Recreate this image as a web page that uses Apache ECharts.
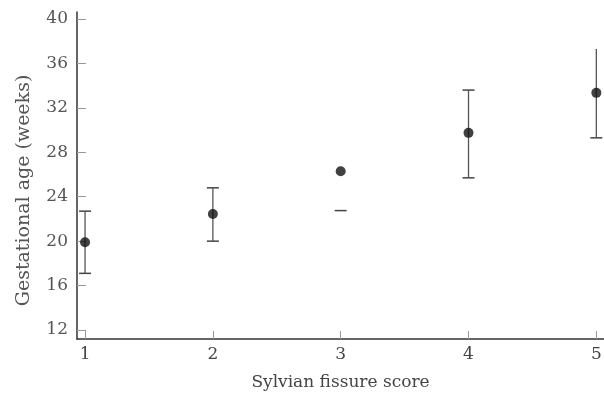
<!DOCTYPE html>
<html>
<head>
<meta charset="utf-8">
<script src="https://cdn.jsdelivr.net/npm/echarts@6/dist/echarts.min.js"></script>
<style>html,body{margin:0;padding:0;background:#fff}#c{width:604px;height:393px}</style>
</head>
<body>
<div id="c"></div>
<script>
var scores = [1, 2, 3, 4, 5];
var means = [19.9, 22.45, 26.3, 29.75, 33.35];
var lowers = [17.1, 20.0, 22.75, 25.7, 29.3];
var uppers = [22.7, 24.8, null, 33.6, 37.3];
var upperCaps = [true, true, false, true, false];
var yTicks = [12, 16, 20, 24, 28, 32, 36, 40];
var xTicks = [1, 2, 3, 4, 5];

var font = '"DejaVu Serif", "Liberation Serif", serif';
var chart = echarts.init(document.getElementById('c'));

var errData = scores.map(function (s, i) {
  return [s, lowers[i], uppers[i] == null ? means[i] : uppers[i], uppers[i] == null ? 0 : 1, upperCaps[i] ? 1 : 0];
});

chart.setOption({
  animation: false,
  grid: { left: 77, right: 0, top: 12, bottom: 54, containLabel: false, outerBoundsMode: 'none' },
  xAxis: {
    type: 'value', min: 0.937, max: 5.06,
    name: 'Sylvian fissure score', nameLocation: 'middle', nameGap: 35,
    nameTextStyle: { fontFamily: font, fontSize: 17, color: '#444' },
    axisLine: { show: true, onZero: false, lineStyle: { color: '#333', width: 1.5 } },
    axisTick: { show: true, inside: true, length: 8, customValues: xTicks, lineStyle: { color: '#999', width: 1 } },
    axisLabel: { customValues: xTicks, fontFamily: font, fontSize: 17, color: '#444', margin: 7 },
    splitLine: { show: false }
  },
  yAxis: {
    type: 'value', min: 11.19, max: 40.63,
    name: 'Gestational age (weeks)', nameLocation: 'middle', nameGap: 43,
    nameTextStyle: { fontFamily: font, fontSize: 19, color: '#555', padding: [0, 30, 0, 0] },
    axisLine: { show: true, onZero: false, lineStyle: { color: '#333', width: 1.5 } },
    axisTick: { show: true, inside: true, length: 9, customValues: yTicks, lineStyle: { color: '#999', width: 1 } },
    axisLabel: { customValues: yTicks, fontFamily: font, fontSize: 17, color: '#555', margin: 9 },
    splitLine: { show: false }
  },
  series: [
    {
      type: 'custom',
      data: errData,
      encode: { x: 0, y: [1, 2] },
      z: 2,
      renderItem: function (params, api) {
        var x = api.value(0);
        var lo = api.coord([x, api.value(1)]);
        var hi = api.coord([x, api.value(2)]);
        var hasUpper = api.value(3) === 1;
        var upperCap = api.value(4) === 1;
        var hw = 6;
        var children = [];
        children.push({ type: 'line', shape: { x1: lo[0] - hw, y1: lo[1], x2: lo[0] + hw, y2: lo[1] }, style: { stroke: '#444', lineWidth: 1.5 } });
        if (hasUpper) {
          children.push({ type: 'line', shape: { x1: lo[0], y1: lo[1], x2: hi[0], y2: hi[1] }, style: { stroke: '#555', lineWidth: 1.3 } });
          if (upperCap) {
            children.push({ type: 'line', shape: { x1: hi[0] - hw, y1: hi[1], x2: hi[0] + hw, y2: hi[1] }, style: { stroke: '#444', lineWidth: 1.5 } });
          }
        }
        return { type: 'group', children: children };
      }
    },
    {
      type: 'scatter',
      data: scores.map(function (s, i) { return [s, means[i]]; }),
      symbol: 'circle', symbolSize: 10,
      itemStyle: { color: '#111' },
      z: 3
    }
  ]
});
</script>
</body>
</html>
